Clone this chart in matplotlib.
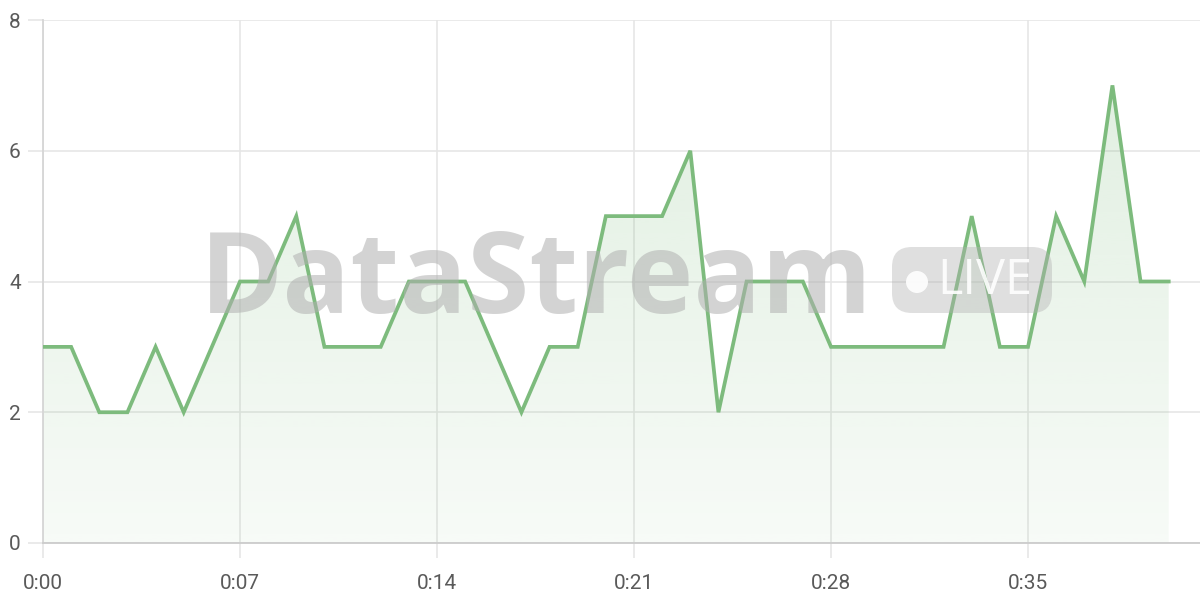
import matplotlib
matplotlib.use("Agg")
import matplotlib.pyplot as plt
import numpy as np
from matplotlib.patches import FancyBboxPatch, Circle
from matplotlib.transforms import IdentityTransform

# one value per second, 0:00 .. 0:40
seconds = list(range(41))
values = [3, 3, 2, 2, 3, 2, 3, 4, 4, 5,
          3, 3, 3, 4, 4, 4, 3, 2, 3, 3,
          5, 5, 5, 6, 2, 4, 4, 4, 3, 3,
          3, 3, 3, 5, 3, 3, 5, 4, 7, 4, 4]
x_ticks = [0, 7, 14, 21, 28, 35]
x_tick_labels = ["0:00", "0:07", "0:14", "0:21", "0:28", "0:35"]
y_ticks = [0, 2, 4, 6, 8]

LINE = "#7dbb7d"
GRID = "#e6e6e6"
TXT = "#5a5a5a"

plt.rcParams["font.family"] = ["Roboto", "DejaVu Sans"]

fig = plt.figure(figsize=(12, 6), dpi=100)
ax = fig.add_axes([43 / 1200, 57 / 600, 1157 / 1200, 523 / 600])

x = np.array(seconds, dtype=float)
y = np.array(values, dtype=float)

# gradient fill under the line
poly = ax.fill_between(x, y, 0, color="none", lw=0, zorder=1)
grad = np.zeros((256, 1, 4))
grad[:, 0, :3] = matplotlib.colors.to_rgb(LINE)
grad[:, 0, 3] = np.linspace(0.25, 0.06, 256)
img = ax.imshow(grad, aspect="auto", extent=[0, 40, 0, 8], origin="upper",
                zorder=1, interpolation="bilinear")
img.set_clip_path(poly.get_paths()[0], transform=ax.transData)

ax.plot(x, y, color=LINE, lw=2.7, zorder=4, solid_joinstyle="miter")

ax.set_xlim(0, (1200 - 43) / (197 / 7))
ax.set_ylim(0, 8)
ax.set_xticks(x_ticks)
ax.set_xticklabels(x_tick_labels)
ax.set_yticks(y_ticks)
ax.grid(True, color=GRID, lw=1.2, zorder=0)
ax.set_axisbelow(True)
for s in ["top", "right"]:
    ax.spines[s].set_visible(False)
ax.spines["left"].set_color("#d6d6d6")
ax.spines["bottom"].set_color("#cccccc")
for s in ["left", "bottom"]:
    ax.spines[s].set_linewidth(1.3)
ax.tick_params(axis="both", length=11, width=1.2, color=GRID,
               labelsize=15, labelcolor=TXT)
ax.tick_params(axis="x", pad=11)
ax.tick_params(axis="y", pad=5)

# watermark
wm = "#b0b0b0"
fig.text(536 / 1200, 1 - 283 / 600, "DataStream", fontsize=81,
         fontweight="bold", family=["Open Sans", "DejaVu Sans"],
         color=wm, alpha=0.55, ha="center", va="center", zorder=3)
# badge, drawn in pixel coordinates (origin bottom-left)
badge = FancyBboxPatch((892, 600 - 313), 160, 66,
                       boxstyle="round,pad=0,rounding_size=20",
                       transform=IdentityTransform(), facecolor=wm, alpha=0.4,
                       edgecolor="none", zorder=3)
fig.patches.append(badge)
fig.patches.append(Circle((917, 600 - 282), 11,
                          transform=IdentityTransform(), facecolor="white",
                          edgecolor="none", alpha=0.9, zorder=3))
fig.text(985 / 1200, 1 - 281 / 600, "LIVE", fontsize=35,
         family=["Open Sans", "DejaVu Sans"], color="white", alpha=0.9,
         ha="center", va="center", zorder=3)

fig.savefig("out.png", dpi=100)
